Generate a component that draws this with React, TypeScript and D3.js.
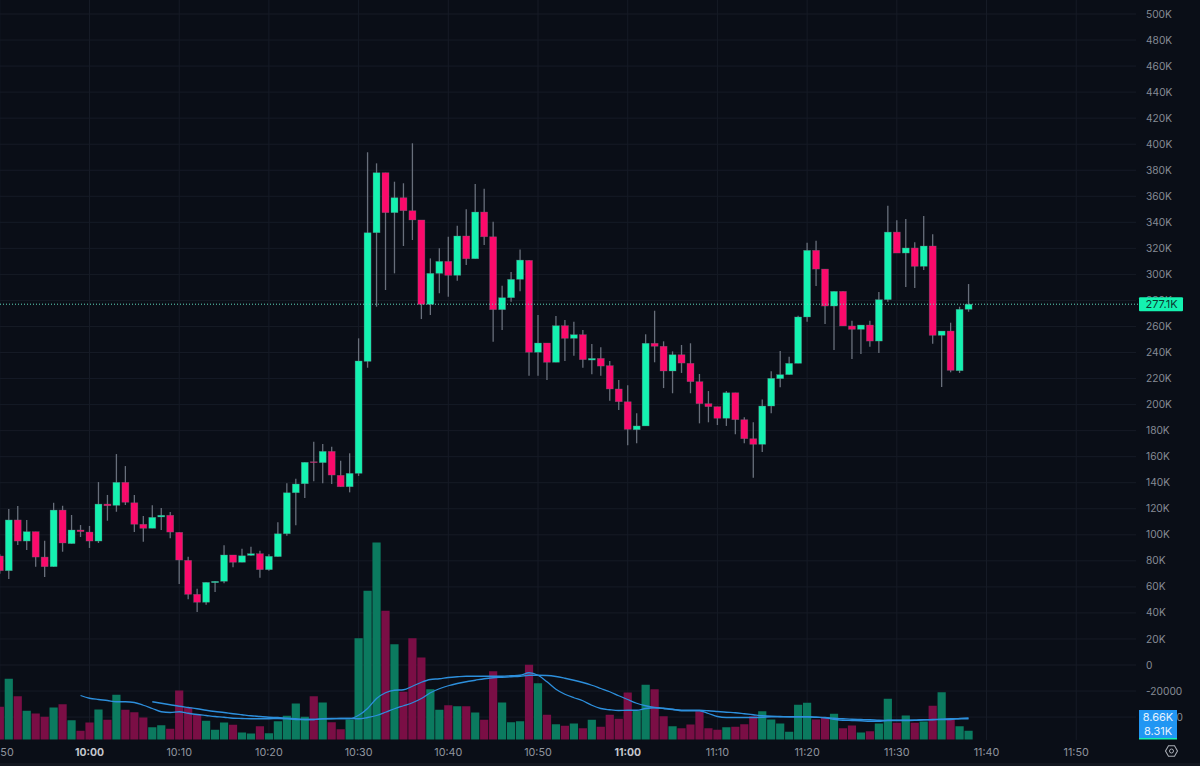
import React, { useEffect, useRef } from 'react';
import * as d3 from 'd3';

const WIDTH = 1200;
const HEIGHT = 766;

// first candle is 09:50, one candle per minute, prices and volume in thousands
const FIRST_MINUTE = -10;

const opens = [
  83.7, 72.4, 111.4, 95.2, 102.4, 82.9, 75.5, 119, 93.2, 103.7,
  102.1, 95.2, 123.6, 122.6, 140.3, 124.6, 108.1, 105, 113.7, 115,
  101.9, 80.4, 54.3, 48.2, 63.2, 64.3, 84.5, 78.9, 84.2, 85.5,
  73.2, 83.2, 100.8, 132.3, 139.2, 156.1, 155.4, 164.1, 145.7, 136.9,
  147.2, 233.2, 332, 378.1, 347.4, 358.9, 348.9, 341.8, 277, 300.8,
  310, 299.3, 329.5, 312, 347.9, 328.9, 272.9, 282.1, 296.2, 310.8,
  240.2, 247.3, 232.5, 260.6, 250.9, 253.7, 234.2, 235.5, 229.9, 212,
  202.2, 180.7, 183.6, 247.1, 244.8, 225.8, 238.3, 231.7, 217.6, 200.7,
  198.4, 189.5, 209.1, 188.4, 173.8, 169.5, 198.9, 219.9, 223, 231.7,
  267.3, 318.5, 304.1, 275.7, 287, 260.4, 257.8, 261.1, 248.8, 280.6,
  332.5, 316.4, 320.3, 306.2, 321.8, 253.2, 256.5, 226, 273.2,
];

const closes = [
  72.4, 111.4, 95.2, 102.4, 82.9, 75.5, 119, 93.7, 103.7, 102.4,
  95.2, 123.6, 122.3, 140.3, 125, 108.1, 105, 113.4, 115, 102.1,
  80.6, 54.3, 48.2, 63.5, 64.3, 84.5, 78.9, 83.9, 85.5, 73.2,
  83.5, 100.8, 132.3, 139, 155.7, 155.4, 164.1, 145.9, 136.9, 147.2,
  233.5, 332, 378.1, 347.4, 358.9, 348.9, 341.8, 277, 300.8, 310,
  299.3, 329.5, 312, 347.9, 328.9, 272.9, 282.1, 296.2, 311, 240.2,
  247.3, 232.5, 260.6, 250.9, 253.7, 234.5, 235.5, 229.6, 212, 202.2,
  181, 183.6, 247.1, 244.8, 225.8, 238.3, 231.9, 217.6, 200.7, 198.4,
  189.5, 209.1, 188.4, 173.8, 169.5, 198.9, 220.2, 223, 231.7, 267.3,
  318.5, 304.1, 275.7, 287, 260.4, 257.8, 261.1, 248.8, 280.6, 332.5,
  316.4, 320.3, 306.2, 321.8, 253.2, 256.5, 226.3, 273.2, 277.1,
];

const highs = [
  85, 119.8, 122.1, 111.4, 102.4, 95.5, 124.6, 122.3, 115.2, 107.5,
  106.8, 140.5, 130.6, 162, 152.8, 130.6, 114.4, 122.6, 120.6, 117.5,
  101.9, 83.2, 58.6, 63.5, 64.3, 91.9, 84.5, 89.3, 90.9, 87.8,
  85, 109.6, 139.5, 143.1, 155.7, 171.5, 169.7, 167.7, 156.9, 162.6,
  250.9, 393.8, 385.3, 378.1, 371.2, 370, 400.7, 341.8, 312.3, 320,
  328.9, 337.4, 350, 369.4, 365.8, 340.5, 291.3, 301.8, 319.2, 310.8,
  268.8, 247.3, 268, 265, 263.7, 257.3, 246.5, 244, 233.5, 218.9,
  214.8, 193.3, 254, 272.1, 248.6, 240.9, 245.8, 247.1, 223.5, 210.4,
  198.4, 210.4, 209.1, 190.2, 186.4, 204, 225.6, 241.2, 236.8, 268.3,
  324.3, 325.9, 304.1, 287, 287, 264.4, 261.1, 264.4, 286.5, 352.8,
  341.5, 342.5, 324.6, 344.8, 330.8, 256.5, 262.9, 275.2, 292.6,
];

const lows = [
  70, 66, 92.2, 88.3, 75.5, 67.6, 75.3, 87, 93.2, 98.3,
  89.9, 93.7, 110.8, 117.7, 122.9, 102.1, 94.7, 105, 103.7, 97.3,
  62.2, 50.5, 40.7, 46.3, 56.1, 62.7, 75, 78.9, 83.9, 67,
  72.4, 83.2, 99.3, 107.3, 128.3, 141.1, 139.5, 139, 136.9, 132.6,
  145.2, 228.3, 275.2, 288, 300.8, 321.8, 326.4, 265.7, 268.8, 285.5,
  282.9, 295.1, 307.2, 312, 322.6, 248.3, 257.3, 279, 287, 222.2,
  222.2, 218.9, 232.5, 233.5, 237.5, 228.3, 223.3, 222.2, 203, 195.8,
  168.7, 170.3, 183.6, 232.5, 212.7, 208.7, 224.3, 208.7, 185.6, 186.4,
  184.3, 183.6, 177.2, 170.3, 143.8, 163.6, 193.3, 213.3, 223, 231.7,
  263.7, 291.1, 261.9, 241.9, 260.4, 235, 238.8, 244.5, 239.6, 279,
  316.4, 290.3, 289.5, 303.4, 246.8, 213.5, 224.8, 224.3, 271.3,
];

const volumes = [
  13.1, 24.3, 17.3, 11.5, 10.4, 9.1, 12.8, 14.1, 7.7, 3.5,
  6.8, 12, 7.9, 17.9, 11.9, 10.9, 8.8, 4.9, 5.7, 4.3,
  19.6, 12.8, 9.9, 7.5, 3.9, 6.8, 5.9, 2.8, 2.4, 5.3,
  2.5, 7.3, 9.5, 14.4, 9.1, 17.3, 14.8, 6.9, 4.1, 8,
  40.5, 59.5, 78.8, 51.5, 38.1, 19.1, 40.5, 32.8, 20.1, 11.9,
  13.7, 13.3, 13.3, 10.8, 7.9, 27.3, 14.8, 6.9, 7.3, 29.9,
  22.5, 9.9, 6.1, 5.5, 6.4, 4.5, 7.9, 5.1, 9.9, 8.3,
  18.8, 11.6, 21.9, 20.1, 9.3, 5.3, 4.5, 6, 11.3, 4.5,
  3.9, 4.9, 5.1, 6.1, 9.3, 11.3, 8, 6.4, 3.1, 13.9,
  14.7, 8, 8.8, 10.3, 4.5, 5.6, 2.8, 3.3, 6.4, 16.3,
  6.7, 9.6, 6.7, 7.2, 13.5, 18.9, 8, 5.3, 3.5,
];

// fast volume average starts at 09:59, slow one at 10:07
const FAST_MA_START = -1;
const fastMa = [
  17.6, 16.5, 16, 15.6, 15.1, 15.1, 14.8, 13.7, 12.4, 11.1,
  10.8, 11.1, 10.5, 10, 9.6, 9.2, 8.9, 8.5, 8.4, 8.3,
  8.3, 8.3, 8.4, 8.3, 8, 8, 8, 8.3, 8.3, 8.4,
  8.4, 9.7, 12.4, 16.4, 18.7, 19.7, 19.9, 21.3, 22.9, 24,
  24.3, 24.8, 25.1, 25.3, 25.3, 25.3, 25.3, 25.3, 25.5, 25.7,
  26.7, 25.7, 23.1, 20.1, 18.1, 16.7, 15.5, 13.7, 12.4, 11.9,
  11.6, 11.7, 11.7, 12.4, 12.7, 12.5, 12.1, 11.5, 11.5, 11.5,
  10.4, 9.2, 8.8, 8.8, 8.8, 8.8, 8.9, 9.1, 9.1, 9.1,
  9.1, 9.1, 8.9, 8.7, 8.1, 7.7, 7.6, 7.5, 7.3, 7.3,
  7.7, 7.7, 7.7, 7.7, 7.9, 8, 8.1, 8.3, 8.3, 8.31,
];

const SLOW_MA_START = 7;
const slowMa = [
  15.1, 14.5, 13.9, 13.3, 12.8, 12.3, 11.7, 11.2, 10.8, 10.3,
  9.9, 9.5, 9.2, 8.9, 8.8, 8.5, 8.3, 8, 8, 8.3,
  8.4, 8.4, 8.4, 8.3, 8.8, 9.6, 10.9, 12.3, 13.5, 14.7,
  16.4, 18.7, 20.3, 21.5, 22.4, 23.1, 23.7, 24.3, 24.7, 24.9,
  25.1, 25.3, 25.7, 25.7, 25.6, 25.2, 24.5, 23.7, 22.8, 21.7,
  20.4, 19.1, 17.5, 16, 14.5, 13.5, 12.8, 12.4, 12, 11.7,
  11.7, 11.7, 11.5, 11.2, 10.9, 10.7, 10.3, 9.9, 9.5, 9.3,
  9.2, 9.1, 9.1, 9.1, 8.9, 8.8, 8.5, 8.3, 8.1, 8,
  7.9, 7.7, 7.6, 7.6, 7.6, 7.7, 7.9, 7.9, 8, 8,
  8.4, 8.66,
];

const priceTicks = [
  500, 480, 460, 440, 420, 400, 380, 360, 340, 320, 300, 280, 260, 240, 220, 200, 180, 160, 140,
  120, 100, 80, 60, 40, 20, 0, -20, -40,
];
const timeTickMinutes = [-10, 0, 10, 20, 30, 40, 50, 60, 70, 80, 90, 100, 110];
const timeTickLabels = ['50', '10:00', '10:10', '10:20', '10:30', '10:40', '10:50', '11:00', '11:10', '11:20', '11:30', '11:40', '11:50'];
const boldTimeTicks = ['10:00', '11:00'];
const lastPriceLabel = '277.1K';
const volumeLabels = ['8.66K', '8.31K'];

const COLORS = {
  bg: '#0a0e17',
  grid: '#161b26',
  up: '#14f2b0',
  down: '#fb0a6b',
  upVol: '#0b7a5f',
  downVol: '#7a0e45',
  wick: '#686f7b',
  ma: '#2d8fdc',
  text: '#868b95',
  timeText: '#8f949e',
  box: '#2196f3',
};

const FONT = 'Inter, "Noto Sans", sans-serif';

function tickLabel(v: number) {
  if (v < 0) return String(v * 1000);
  return v === 0 ? '0' : `${v}K`;
}

export default function App() {
  const svgRef = useRef<SVGSVGElement>(null);

  useEffect(() => {
    const svg = d3.select(svgRef.current);
    svg.selectAll('*').remove();

    const plotRight = 1136;

    const x = d3.scaleLinear().domain([0, 100]).range([89.5, 986.5]);
    const y = d3.scaleLinear().domain([0, 500]).range([665, 14]);
    const yVol = d3.scaleLinear().domain([0, 80]).range([739.5, 539.5]);

    svg.append('rect').attr('width', WIDTH).attr('height', HEIGHT).attr('fill', COLORS.bg);

    // grid
    const grid = svg.append('g');
    grid.selectAll('line.h')
      .data(priceTicks)
      .enter()
      .append('line')
      .attr('x1', 0)
      .attr('x2', plotRight)
      .attr('y1', d => y(d))
      .attr('y2', d => y(d))
      .attr('stroke', COLORS.grid);
    grid.selectAll('line.v')
      .data(timeTickMinutes)
      .enter()
      .append('line')
      .attr('x1', d => x(d))
      .attr('x2', d => x(d))
      .attr('y1', 0)
      .attr('y2', 740)
      .attr('stroke', COLORS.grid);

    // volume bars
    const idx = d3.range(opens.length);
    svg.append('g')
      .selectAll('rect')
      .data(idx)
      .enter()
      .append('rect')
      .attr('x', i => x(i + FIRST_MINUTE) - 4.1)
      .attr('width', 8.2)
      .attr('y', i => yVol(volumes[i]))
      .attr('height', i => yVol(0) - yVol(volumes[i]))
      .attr('fill', i => (closes[i] >= opens[i] ? COLORS.upVol : COLORS.downVol));

    // moving averages
    const maLine = (start: number) =>
      d3.line<number>()
        .x((_, i) => x(i + start))
        .y(d => yVol(d))
        .curve(d3.curveMonotoneX);
    svg.append('path')
      .attr('d', maLine(FAST_MA_START)(fastMa))
      .attr('fill', 'none')
      .attr('stroke', COLORS.ma)
      .attr('stroke-width', 1.3);
    svg.append('path')
      .attr('d', maLine(SLOW_MA_START)(slowMa))
      .attr('fill', 'none')
      .attr('stroke', COLORS.ma)
      .attr('stroke-width', 1.3);

    // candles
    const candles = svg.append('g');
    candles.selectAll('line')
      .data(idx)
      .enter()
      .append('line')
      .attr('x1', i => x(i + FIRST_MINUTE))
      .attr('x2', i => x(i + FIRST_MINUTE))
      .attr('y1', i => y(highs[i]))
      .attr('y2', i => y(lows[i]))
      .attr('stroke', COLORS.wick)
      .attr('stroke-width', 1.3);
    candles.selectAll('rect')
      .data(idx)
      .enter()
      .append('rect')
      .attr('x', i => x(i + FIRST_MINUTE) - 3.5)
      .attr('width', 7)
      .attr('y', i => y(Math.max(opens[i], closes[i])))
      .attr('height', i => Math.abs(y(opens[i]) - y(closes[i])))
      .attr('fill', i => (closes[i] >= opens[i] ? COLORS.up : COLORS.down))
      .attr('stroke', COLORS.wick)
      .attr('stroke-opacity', 0.55)
      .attr('stroke-width', 0.6);

    // last price line
    const lastY = y(closes[closes.length - 1]);
    svg.append('line')
      .attr('x1', 0)
      .attr('x2', 1139)
      .attr('y1', lastY)
      .attr('y2', lastY)
      .attr('stroke', '#5fd8bd')
      .attr('stroke-width', 1)
      .attr('stroke-dasharray', '1 2');

    // price axis, 280K and -40000 sit behind the tags like in the real chart
    svg.append('g')
      .selectAll('text')
      .data(priceTicks)
      .enter()
      .append('text')
      .attr('x', 1146)
      .attr('y', d => y(d))
      .attr('dy', '0.35em')
      .attr('font-family', FONT)
      .attr('font-size', 10.2)
      .attr('fill', COLORS.text)
      .text(d => tickLabel(d));

    // time axis
    svg.append('g')
      .selectAll('text')
      .data(timeTickMinutes)
      .enter()
      .append('text')
      .attr('x', (d, i) => (i === 0 ? 7 : x(d)))
      .attr('y', 752)
      .attr('dy', '0.35em')
      .attr('text-anchor', 'middle')
      .attr('font-family', FONT)
      .attr('font-size', (_, i) => (boldTimeTicks.includes(timeTickLabels[i]) ? 10.4 : 10.8))
      .attr('font-weight', (_, i) => (boldTimeTicks.includes(timeTickLabels[i]) ? 700 : 400))
      .attr('fill', (_, i) => (boldTimeTicks.includes(timeTickLabels[i]) ? '#c4c7cd' : COLORS.timeText))
      .text((_, i) => timeTickLabels[i]);

    // bottom separator
    svg.append('rect').attr('x', 0).attr('y', 763).attr('width', WIDTH).attr('height', 3).attr('fill', '#12161f');

    // last price tag
    svg.append('rect').attr('x', 1139).attr('y', lastY - 7).attr('width', 44).attr('height', 14).attr('rx', 1).attr('fill', COLORS.up);
    svg.append('text')
      .attr('x', 1161.5)
      .attr('y', lastY)
      .attr('dy', '0.35em')
      .attr('text-anchor', 'middle')
      .attr('font-family', FONT)
      .attr('font-size', 11)
      .attr('font-kerning', 'none')
      .attr('fill', '#0b3a33')
      .text(lastPriceLabel);

    // volume tags
    svg.append('rect').attr('x', 1139).attr('y', 710).attr('width', 38).attr('height', 28).attr('fill', COLORS.box);
    svg.append('rect').attr('x', 1139).attr('y', 738).attr('width', 38).attr('height', 1.5).attr('fill', COLORS.up);
    svg.selectAll('text.vol')
      .data(volumeLabels)
      .enter()
      .append('text')
      .attr('class', 'vol')
      .attr('x', 1158)
      .attr('y', (_, i) => 717 + i * 14)
      .attr('dy', '0.35em')
      .attr('text-anchor', 'middle')
      .attr('font-family', FONT)
      .attr('font-size', 11)
      .attr('fill', '#e6f2fd')
      .text(d => d);

    // settings icon, a hexagon with a ring inside
    const hex = d3.range(6).map(k => {
      const a = (Math.PI / 3) * k;
      return [1171.5 + 6 * Math.cos(a), 751 + 6 * Math.sin(a)] as [number, number];
    });
    svg.append('path')
      .attr('d', d3.line().curve(d3.curveLinearClosed)(hex))
      .attr('fill', 'none')
      .attr('stroke', '#a8acb4')
      .attr('stroke-width', 1.1);
    svg.append('circle').attr('cx', 1171.5).attr('cy', 751).attr('r', 2).attr('fill', 'none').attr('stroke', '#a8acb4').attr('stroke-width', 1);
  }, []);

  return (
    <svg
      ref={svgRef}
      width={WIDTH}
      height={HEIGHT}
      viewBox={`0 0 ${WIDTH} ${HEIGHT}`}
      style={{ position: 'fixed', left: 0, top: 0 }}
    />
  );
}
